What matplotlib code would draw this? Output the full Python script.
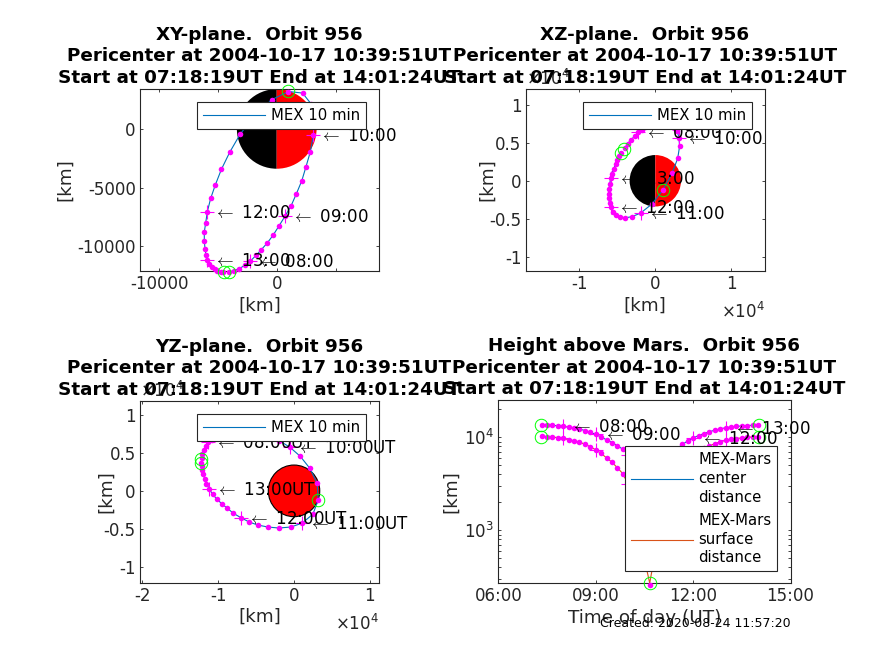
import matplotlib
matplotlib.use('Agg')
import matplotlib.pyplot as plt
from matplotlib.patches import Wedge, Circle
from matplotlib.ticker import NullFormatter, LogLocator

W, H = 874, 655
GREY = '#262626'
BLUE = '#0072BD'
ORANGE = '#D95319'

times = ['07:20','07:30','07:40','07:50',
         '08:00','08:10','08:20','08:30','08:40','08:50',
         '09:00','09:10','09:20','09:30','09:40','09:50',
         '10:00','10:10','10:20','10:30','10:40','10:50',
         '11:00','11:10','11:20','11:30','11:40','11:50',
         '12:00','12:10','12:20','12:30','12:40','12:50',
         '13:00','13:10','13:20','13:30','13:40','13:50',
         '14:00']
x_km = [-4050,-3650,-3210,-2700,
        -2270,-1760,-1310,-825,-315,195,
        700,1220,1670,2130,2490,2860,
        3120,3200,2950,2200,950,-440,
        -1930,-3100,-4000,-4710,-5220,-5620,
        -5900,-6040,-6160,-6160,-6100,-6020,
        -5900,-5750,-5480,-5250,-5050,-4780,
        -4540]
y_km = [-12180,-12070,-11900,-11620,
        -11280,-10770,-10280,-9740,-9060,-8260,
        -7440,-6550,-5530,-4420,-3220,-1940,
        -510,830,2100,3050,3180,2480,
        1050,-430,-1990,-3450,-4760,-5920,
        -7040,-7980,-8780,-9520,-10200,-10740,
        -11200,-11540,-11780,-11950,-12080,-12180,
        -12220]
z_km = [4300,4900,5400,5900,
        6400,6700,7100,7400,7600,7700,
        7700,7600,7400,7300,7000,6600,
        5700,4530,2940,970,-1250,-3070,
        -4250,-4750,-4880,-4750,-4490,-4090,
        -3500,-2950,-2300,-1700,-1050,-450,
        300,950,1600,2200,2800,3250,
        3650]
center_km = [13600,13530,13450,13310,13170,12800,12560,12260,11830,11290,
             10730,10110,9390,8790,8100,7460,6520,5600,4660,3880,3650,3970,
             4790,5690,6620,7530,8370,9130,9830,10440,10970,11460,11930,
             12320,12660,12920,13090,13240,13390,13480,13540]
surface_km = [10210,10140,10060,9920,9780,9410,9170,8870,8440,7900,
              7340,6720,6000,5400,4710,4070,3130,2210,1270,490,260,580,
              1400,2300,3230,4140,4980,5740,6440,7050,7580,8070,8540,
              8930,9270,9530,9700,9850,10000,10090,10150]

# start, pericenter and end of the orbit segment
event_t = [7.305, 10.664, 14.023]
event_x = [-4100, 1000, -4500]
event_y = [-12200, 3190, -12220]
event_z = [4180, -1230, 3720]
event_center = [13540, 3660, 13550]
event_surface = [10150, 270, 10160]

hour_labels = ['08:00','09:00','10:00','11:00','12:00','13:00']
title_lines = ['Pericenter at 2004-10-17 10:39:51UT',
               'Start at 07:18:19UT End at 14:01:24UT']
mars_radius = 3390
TITLE_SIZE = 13.2


def hours(s):
    return int(s[:2]) + int(s[3:]) / 60


t_h = [hours(s) for s in times]
plt.rcParams['font.family'] = 'DejaVu Sans'
plt.rcParams['mathtext.fontset'] = 'dejavusans'
fig = plt.figure(figsize=(W / 100, H / 100), dpi=100)


def make_axes(l, t, r, b):
    ax = fig.add_axes([l / W, 1 - b / H, (r - l) / W, (b - t) / H])
    ax.tick_params(which='both', direction='in', top=True, right=True,
                   length=2.0, width=0.6, labelsize=12, colors=GREY, pad=3)
    for s in ax.spines.values():
        s.set_linewidth(0.8)
        s.set_color(GREY)
    return ax


def titled(ax, first):
    ax.set_title('\n'.join([first] + title_lines), fontsize=TITLE_SIZE,
                 fontweight='bold', pad=4.5, linespacing=1.25, color='black')


def label_marks(ax, xs, ys, suffix='', dx=7):
    """hour crosses and arrow labels on one curve"""
    for lab in hour_labels:
        i = times.index(lab)
        ax.plot([xs[i]], [ys[i]], '+', color='#FF00FF', ms=9.5, mew=0.8,
                clip_on=False, zorder=4)
        ax.annotate(r'$\leftarrow$ ' + lab + suffix, xy=(xs[i], ys[i]), xytext=(dx, -1),
                    textcoords='offset pixels', va='center', ha='left',
                    fontsize=12, color='black', annotation_clip=False, zorder=5,
                    math_fontfamily='cm')


def track(ax, xs, ys, ex, ey, color=BLUE):
    i_peri = times.index('10:40')
    lx = [ex[0]] + xs[:i_peri] + [ex[1]] + xs[i_peri + 1:] + [ex[2]]
    ly = [ey[0]] + ys[:i_peri] + [ey[1]] + ys[i_peri + 1:] + [ey[2]]
    line, = ax.plot(lx, ly, '-', color=color, lw=0.8, zorder=3, clip_on=True)
    ax.plot(xs, ys, 'o', color='#FF00FF', ms=4.0, mew=0, clip_on=False, zorder=4)
    ax.plot(ex, ey, 'o', mfc='none', mec='#00FF00', ms=9, mew=0.7,
            clip_on=False, zorder=4)
    return line


def legend_at(ax, handles, labels, l, t, multi=False):
    leg = ax.legend(handles, labels, loc='upper left',
                    bbox_to_anchor=(l / W, 1 - t / H),
                    bbox_transform=fig.transFigure, borderaxespad=0,
                    fontsize=10.7, handlelength=4.2, handletextpad=0.36,
                    borderpad=0.4, labelspacing=0.55 if multi else 0.4,
                    fancybox=False, framealpha=1, edgecolor=GREY, facecolor='white')
    leg.get_frame().set_linewidth(0.8)
    leg.set_zorder(20)
    if multi:
        for txt in leg.get_texts():
            txt.set_linespacing(1.32)
    return leg


def half_mars(ax):
    ax.add_patch(Wedge((0, 0), mars_radius, 90, 270, fc='black', ec='none', zorder=2))
    ax.add_patch(Wedge((0, 0), mars_radius, -90, 90, fc='red', ec='none', zorder=2))


def sci_y(ax):
    ax.text(0, 1.0, r'$\times 10^{4}$', transform=ax.transAxes, ha='left',
            va='bottom', fontsize=12, color=GREY, zorder=1)


def sci_x(ax):
    ax.text(1, -0.17, r'$\times 10^{4}$', transform=ax.transAxes, ha='right',
            va='top', fontsize=12, color=GREY)


def km_labels(ax, xpix, ypix):
    """xpix: centre of the y label; ypix: centre of the x label, both in figure pixels"""
    ax.set_xlabel('[km]', fontsize=13.2, color=GREY)
    ax.set_ylabel('[km]', fontsize=13.2, color=GREY)
    bb = ax.get_position()
    bottom_px = (1 - bb.y0) * H
    ax.xaxis.set_label_coords(0.5, -(ypix - 9 - bottom_px) / (bb.height * H))
    ax.yaxis.set_label_coords(((xpix + 9) / W - bb.x0) / bb.width, 0.5)


# ---- XY ----
ax1 = make_axes(140, 89, 379, 271)
half_mars(ax1)
l1 = track(ax1, x_km, y_km, event_x, event_y)
label_marks(ax1, x_km, y_km)
ax1.set_xlim(-11630, 8700)
ax1.set_ylim(-12100, 3400)
ax1.set_xticks([-10000, -5000, 0, 5000])
ax1.set_xticklabels(['-10000', '', '0', ''])
ax1.set_yticks([-10000, -5000, 0])
ax1.set_yticklabels(['-10000', '-5000', '0'])
km_labels(ax1, 65, 306)
titled(ax1, 'XY-plane.  Orbit 956')
legend_at(ax1, [l1], ['MEX 10 min'], 197, 102)

# ---- XZ ----
ax2 = make_axes(525.5, 89, 764.5, 271)
half_mars(ax2)
l2 = track(ax2, x_km, z_km, event_x, event_z)
label_marks(ax2, x_km, z_km)
ax2.set_xlim(-17120, 14400)
ax2.set_ylim(-11900, 12100)
ax2.set_xticks([-10000, 0, 10000])
ax2.set_xticklabels(['-1', '0', '1'])
ax2.set_yticks([-10000, -5000, 0, 5000, 10000])
ax2.set_yticklabels(['-1', '-0.5', '0', '0.5', '1'])
km_labels(ax2, 487, 306)
titled(ax2, 'XZ-plane.  Orbit 956')
sci_x(ax2)
sci_y(ax2)
legend_at(ax2, [l2], ['MEX 10 min'], 583, 102)

# ---- YZ ----
ax3 = make_axes(140, 401, 379, 583)
ax3.add_patch(Circle((0, 0), mars_radius, fc='red', ec='black', lw=0.8, zorder=2))
l3 = track(ax3, y_km, z_km, event_y, event_z)
label_marks(ax3, y_km, z_km, suffix='UT')
ax3.set_xlim(-20300, 11200)
ax3.set_ylim(-12100, 11800)
ax3.set_xticks([-20000, -10000, 0, 10000])
ax3.set_xticklabels(['-2', '-1', '0', '1'])
ax3.set_yticks([-10000, -5000, 0, 5000, 10000])
ax3.set_yticklabels(['-1', '-0.5', '0', '0.5', '1'])
km_labels(ax3, 106, 617)
titled(ax3, 'YZ-plane.  Orbit 956')
sci_x(ax3)
sci_y(ax3)
legend_at(ax3, [l3], ['MEX 10 min'], 197, 414)

# ---- height ----
ax4 = make_axes(498.3, 400.3, 790.5, 583.3)
l4 = track(ax4, t_h, center_km, event_t, event_center)
l5 = track(ax4, t_h, surface_km, event_t, event_surface, color=ORANGE)
label_marks(ax4, t_h, center_km, dx=8)
for lab in hour_labels:
    i = times.index(lab)
    ax4.plot([t_h[i]], [surface_km[i]], '+', color='#FF00FF', ms=9.5, mew=0.8,
             clip_on=False, zorder=4)
ax4.set_yscale('log')
ax4.set_xlim(6, 15)
ax4.set_ylim(269, 25000)
ax4.set_xticks([6, 9, 12, 15])
ax4.set_xticklabels(['06:00', '09:00', '12:00', '15:00'])
ax4.set_yticks([1000, 10000])
ax4.yaxis.set_minor_locator(LogLocator(base=10, subs=range(2, 10), numticks=12))
ax4.yaxis.set_minor_formatter(NullFormatter())
ax4.set_xlabel('Time of day (UT)', fontsize=13.2, color=GREY, labelpad=2.5)
ax4.set_ylabel('[km]', fontsize=13.2, color=GREY)
bb = ax4.get_position()
ax4.yaxis.set_label_coords((460 / W - bb.x0) / bb.width, 0.5)
titled(ax4, 'Height above Mars.  Orbit 956')
legend_at(ax4, [l4, l5], ['MEX-Mars\ncenter\ndistance', 'MEX-Mars\nsurface\ndistance'],
          624.7, 446, multi=True)

fig.text(791 / W, 1 - 623.5 / H, 'Created: 2020-08-24 11:57:20', ha='right',
         va='center', fontsize=9.0, color='black')
fig.savefig('out.png', dpi=100)
